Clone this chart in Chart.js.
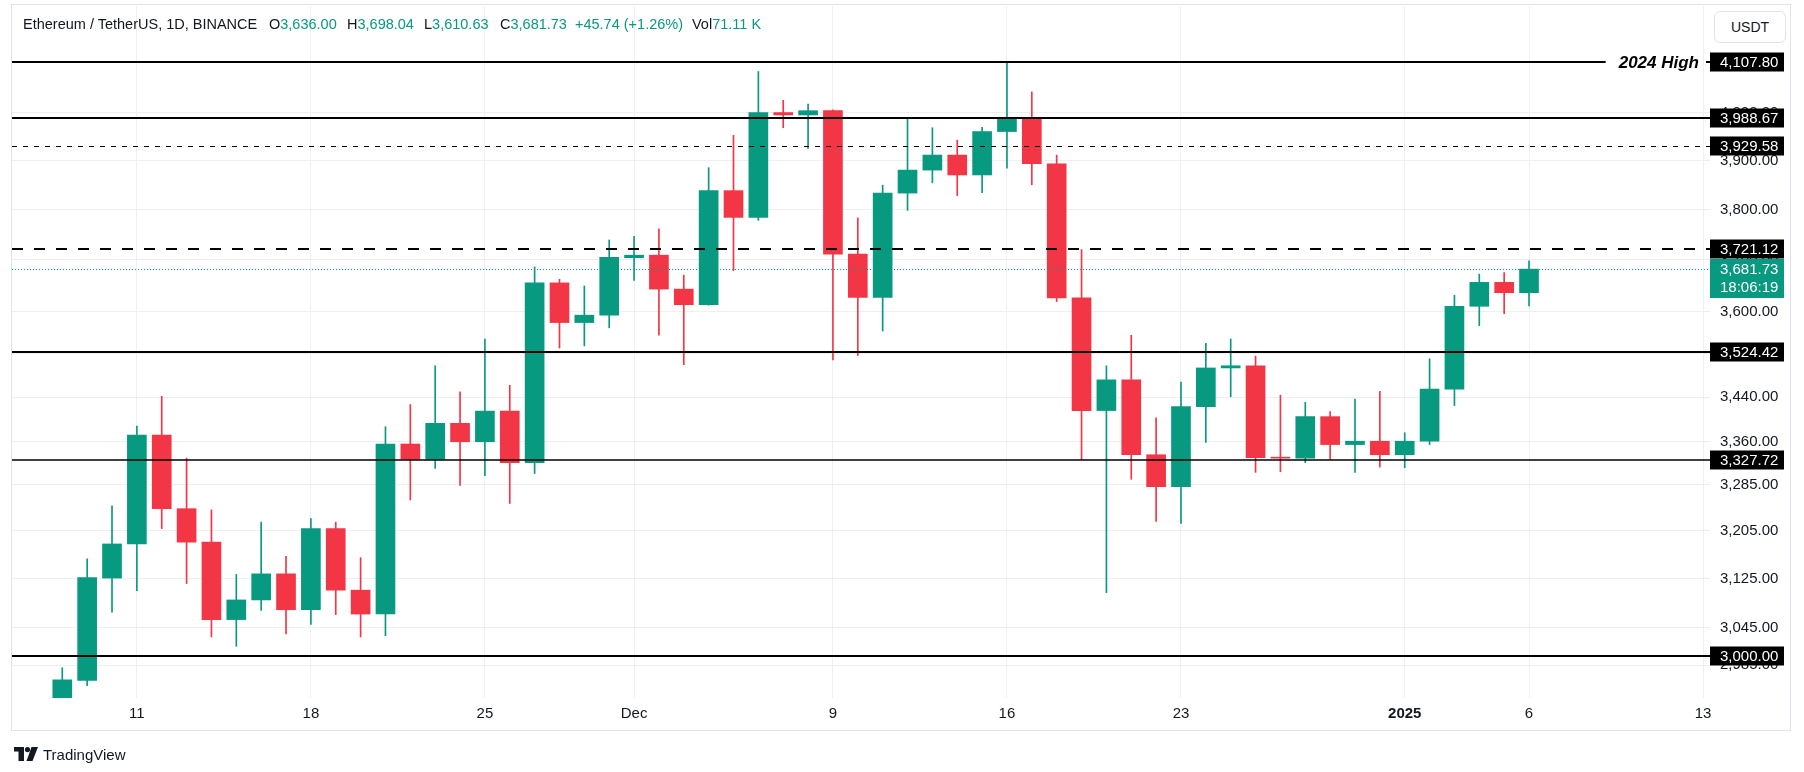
<!DOCTYPE html>
<html>
<head>
<meta charset="utf-8">
<script src="https://cdn.jsdelivr.net/npm/chart.js@4.4.1/dist/chart.umd.min.js"></script>
<style>
  html, body { margin: 0; padding: 0; background: #ffffff; }
  #wrap { position: relative; width: 1804px; height: 772px; overflow: hidden;
          font-family: "Liberation Sans", Arial, sans-serif; color: #131722; }
  #c { position: absolute; left: 0; top: 0; }
  #frame { position: absolute; left: 11px; top: 4px; width: 1778px; height: 725px;
           border: 1px solid #e0e3eb; pointer-events: none; }
  .hdr { position: absolute; top: 15px; font-size: 14.5px; line-height: 18px; white-space: pre; color: #131722; }
  .hdr .v { color: #089981; }
  #usdt { position: absolute; left: 1714px; top: 11px; width: 70px; height: 30px;
          border: 1px solid #e0e3eb; border-radius: 6px; font-size: 14px; line-height: 30px;
          text-align: center; color: #131722; background: #fff; }
  #logo { position: absolute; left: 14px; top: 745px; height: 18px; display: flex; align-items: center; }
  #logo span { font-size: 15px; margin-left: 5px; color: #131722; }
</style>
</head>
<body>
<div id="wrap">
  <canvas id="c" width="1804" height="772"></canvas>
  <div id="frame"></div>
  <div class="hdr" style="left:23px">Ethereum / TetherUS, 1D, BINANCE</div>
  <div class="hdr" style="left:269px">O<span class="v">3,636.00</span></div>
  <div class="hdr" style="left:347px">H<span class="v">3,698.04</span></div>
  <div class="hdr" style="left:424px">L<span class="v">3,610.63</span></div>
  <div class="hdr" style="left:500px">C<span class="v">3,681.73</span></div>
  <div class="hdr" style="left:575px"><span class="v">+45.74 (+1.26%)</span></div>
  <div class="hdr" style="left:692px">Vol<span class="v">71.11 K</span></div>
  <div id="usdt">USDT</div>
  <div id="logo">
    <svg width="24" height="14" viewBox="0 0 24 14">
      <rect x="0" y="0" width="10" height="4.5" fill="#131722"/>
      <rect x="4.5" y="0" width="5.5" height="14" fill="#131722"/>
      <circle cx="13.5" cy="2.6" r="2.6" fill="#131722"/>
      <polygon points="17.5,0 24,0 18.5,14 12.5,14" fill="#131722"/>
    </svg>
    <span>TradingView</span>
  </div>
</div>
<script>
// ---------------- data ----------------
const DATES = [
  '2024-11-08','2024-11-09','2024-11-10','2024-11-11','2024-11-12','2024-11-13','2024-11-14','2024-11-15',
  '2024-11-16','2024-11-17','2024-11-18','2024-11-19','2024-11-20','2024-11-21','2024-11-22','2024-11-23',
  '2024-11-24','2024-11-25','2024-11-26','2024-11-27','2024-11-28','2024-11-29','2024-11-30','2024-12-01',
  '2024-12-02','2024-12-03','2024-12-04','2024-12-05','2024-12-06','2024-12-07','2024-12-08','2024-12-09',
  '2024-12-10','2024-12-11','2024-12-12','2024-12-13','2024-12-14','2024-12-15','2024-12-16','2024-12-17',
  '2024-12-18','2024-12-19','2024-12-20','2024-12-21','2024-12-22','2024-12-23','2024-12-24','2024-12-25',
  '2024-12-26','2024-12-27','2024-12-28','2024-12-29','2024-12-30','2024-12-31','2025-01-01','2025-01-02',
  '2025-01-03','2025-01-04','2025-01-05','2025-01-06'
];
const OPEN = [
  2896, 2961, 3126, 3183, 3372, 3243, 3186, 3058, 3090, 3133,
  3074, 3209, 3106, 3067, 3356, 3329, 3393, 3360, 3415, 3323,
  3655, 3579, 3593, 3704, 3709, 3643, 3613, 3838, 3784, 4000,
  3995, 4004, 3711, 3627, 3833, 3880, 3911, 3870, 3960, 3988,
  3893, 3626, 3416, 3472, 3337, 3281, 3423, 3494, 3498, 3332,
  3331, 3405, 3355, 3361, 3337, 3361, 3455, 3610, 3656, 3636.00
];
const HIGH = [
  2981, 3158, 3248, 3388, 3442, 3331, 3241, 3132, 3220, 3162,
  3226, 3220, 3160, 3387, 3427, 3498, 3450, 3548, 3462, 3686,
  3662, 3649, 3739, 3746, 3761, 3670, 3885, 3952, 4088, 4026,
  4018, 4006, 3783, 3849, 3988, 3968, 3942, 3969, 4107.80, 4044,
  3911, 3720, 3498, 3555, 3403, 3468, 3540, 3548, 3516, 3444,
  3431, 3414, 3437, 3451, 3376, 3511, 3631, 3672, 3675, 3698.04
];
const LOW = [
  2865, 2953, 3070, 3105, 3209, 3117, 3030, 3015, 3073, 3035,
  3050, 3066, 3030, 3032, 3258, 3313, 3283, 3300, 3252, 3304,
  3531, 3535, 3569, 3660, 3555, 3500, 3612, 3679, 3778, 3968,
  3925, 3509, 3517, 3563, 3798, 3854, 3828, 3834, 3884, 3850,
  3619, 3329, 3102, 3294, 3221, 3218, 3359, 3441, 3306, 3307,
  3323, 3329, 3306, 3315, 3314, 3355, 3425, 3573, 3596, 3610.63
];
const CLOSE = [
  2962, 3127, 3183, 3372, 3243, 3186, 3058, 3090, 3133, 3074,
  3209, 3106, 3067, 3356, 3329, 3393, 3360, 3415, 3323, 3655,
  3579, 3593, 3705, 3709, 3643, 3613, 3838, 3784, 4000, 3995,
  4004, 3711, 3627, 3833, 3880, 3911, 3870, 3960, 3988, 3893,
  3626, 3416, 3472, 3337, 3281, 3423, 3494, 3498, 3332, 3331,
  3405, 3355, 3361, 3337, 3361, 3455, 3610, 3656, 3636, 3681.73
];
// tick labels (x: candle index of the date, label text)
const X_TICK_INDEX = [3, 10, 17, 23, 31, 38, 45, 54, 59, 66];
const X_TICK_LABELS = ['11', '18', '25', 'Dec', '9', '16', '23', '2025', '6', '13'];
const Y_TICKS = [2985, 3045, 3125, 3205, 3285, 3360, 3440, 3520, 3600, 3700, 3800, 3900, 4000];
// horizontal levels
const LEVEL_VALUES = [4107.80, 3988.67, 3929.58, 3721.12, 3524.42, 3327.72, 3000.00];
const LEVEL_NOTES = ['2024 High', '', '', '', '', '', ''];
const LAST_PRICE = 3681.73;
const COUNTDOWN = '18:06:19';

// ---------------- styles ----------------
const UP = '#089981', DOWN = '#F23645';
const LEVEL_STYLES = [
  { w: 2, dash: [] }, { w: 2, dash: [] }, { w: 1, dash: [5, 6] }, { w: 2, dash: [11, 11] },
  { w: 2, dash: [] }, { w: 1.5, dash: [] }, { w: 2, dash: [] }
];
const FONT = '"Liberation Sans", Arial, sans-serif';
const X_MIN = -2.023, X_MAX = 66.28;
const Y_MIN = 2933.6, Y_MAX = 4232.3;

const fmt = v => v.toLocaleString('en-US', { minimumFractionDigits: 2, maximumFractionDigits: 2 });
const colors = CLOSE.map((c, i) => c >= OPEN[i] ? UP : DOWN);

const levelPlugin = {
  id: 'levels',
  afterDatasetsDraw(chart) {
    const { ctx, chartArea: a, scales: { y } } = chart;
    ctx.save();
    LEVEL_VALUES.forEach((v, i) => {
      const st = LEVEL_STYLES[i];
      let py = y.getPixelForValue(v);
      py = (st.w % 2 === 1) ? Math.round(py - 0.5) + 0.5 : Math.round(py);
      ctx.strokeStyle = '#000000';
      ctx.lineWidth = st.w;
      ctx.setLineDash(st.dash);
      ctx.beginPath();
      if (LEVEL_NOTES[i]) {
        ctx.font = 'italic bold 17px ' + FONT;
        const tw = ctx.measureText(LEVEL_NOTES[i]).width;
        const tx = a.right - 11;
        ctx.moveTo(a.left, py); ctx.lineTo(tx - tw - 13, py);
        ctx.moveTo(tx + 7, py); ctx.lineTo(a.right, py);
        ctx.stroke();
        ctx.fillStyle = '#000000';
        ctx.textAlign = 'right';
        ctx.textBaseline = 'middle';
        ctx.fillText(LEVEL_NOTES[i], tx, py + 1);
      } else {
        ctx.moveTo(a.left, py); ctx.lineTo(a.right, py);
        ctx.stroke();
      }
    });
    // last price dotted line
    const lp = Math.round(y.getPixelForValue(LAST_PRICE) - 0.5) + 0.5;
    ctx.strokeStyle = UP; ctx.lineWidth = 1; ctx.setLineDash([1, 2]);
    ctx.beginPath(); ctx.moveTo(a.left, lp); ctx.lineTo(a.right, lp); ctx.stroke();
    ctx.restore();
  },
  afterDraw(chart) {
    const { ctx, chartArea: a, scales: { y } } = chart;
    ctx.save();
    ctx.font = '15px ' + FONT;
    ctx.textAlign = 'left';
    ctx.textBaseline = 'middle';
    const bx = a.right, bw = 74, tx = a.right + 10;
    LEVEL_VALUES.forEach(v => {
      const py = Math.round(y.getPixelForValue(v));
      ctx.fillStyle = '#000000';
      ctx.fillRect(bx, py - 9.5, bw, 19);
      ctx.fillStyle = '#ffffff';
      ctx.fillText(fmt(v), tx, py + 0.5);
    });
    const lp = Math.round(y.getPixelForValue(LAST_PRICE));
    ctx.fillStyle = UP;
    ctx.fillRect(bx, lp - 10, bw, 39);
    ctx.fillStyle = '#ffffff';
    ctx.fillText(fmt(LAST_PRICE), tx, lp + 0.5);
    ctx.fillText(COUNTDOWN, tx, lp + 19);
    ctx.restore();
  }
};

new Chart(document.getElementById('c'), {
  type: 'bar',
  data: {
    datasets: [
      {
        label: 'body',
        data: OPEN.map((o, i) => ({ x: i, y: [o, CLOSE[i]] })),
        backgroundColor: colors,
        barThickness: 19,
        minBarLength: 1,
        grouped: false,
        order: 0
      },
      {
        label: 'wick',
        data: LOW.map((l, i) => ({ x: i, y: [l, HIGH[i]] })),
        backgroundColor: colors,
        barThickness: 1,
        grouped: false,
        order: 1
      }
    ]
  },
  options: {
    responsive: false,
    animation: false,
    devicePixelRatio: 1,
    layout: { padding: { left: 12, top: 6, right: 13, bottom: 42 } },
    plugins: { legend: { display: false }, tooltip: { enabled: false } },
    scales: {
      x: {
        type: 'linear',
        min: X_MIN, max: X_MAX,
        offset: false,
        border: { display: false },
        grid: { color: '#efefef', drawTicks: false, offset: false },
        afterBuildTicks: s => { s.ticks = X_TICK_INDEX.map(v => ({ value: v })); },
        afterFit: s => { s.height = 32; s.paddingLeft = 0; s.paddingRight = 0; },
        ticks: {
          autoSkip: false, maxRotation: 0, padding: 7, color: '#131722',
          font: ctx => ({ family: FONT, size: 15, weight: (ctx.tick && ctx.tick.value === 54) ? 'bold' : 'normal' }),
          callback: v => X_TICK_LABELS[X_TICK_INDEX.indexOf(v)]
        }
      },
      y: {
        type: 'logarithmic',
        position: 'right',
        min: Y_MIN, max: Y_MAX,
        border: { display: false },
        grid: { color: '#efefef', drawTicks: false },
        afterBuildTicks: s => { s.ticks = Y_TICKS.map(v => ({ value: v })); },
        afterFit: s => { s.width = 81; s.paddingTop = 0; s.paddingBottom = 0; },
        ticks: {
          autoSkip: false, padding: 10, color: '#131722',
          font: { family: FONT, size: 15 },
          callback: v => fmt(v)
        }
      }
    }
  },
  plugins: [levelPlugin]
});
</script>
</body>
</html>
